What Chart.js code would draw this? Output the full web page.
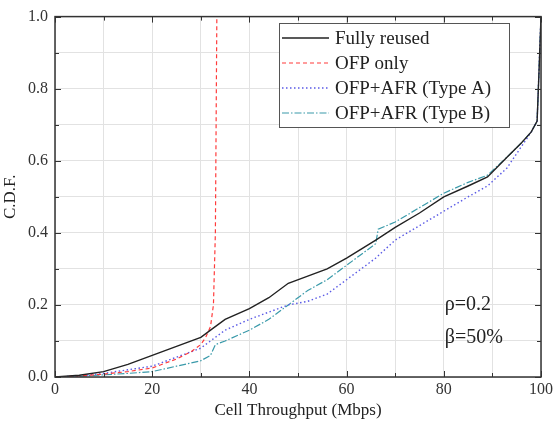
<!DOCTYPE html>
<html>
<head>
<meta charset="utf-8">
<script src="https://cdn.jsdelivr.net/npm/chart.js@4"></script>
<style>
  html, body { margin: 0; padding: 0; background: #fff; }
  #wrap { width: 556px; height: 421px; }
</style>
</head>
<body>
<div id="wrap"><canvas id="cdf-chart" width="556" height="421"></canvas></div>
<script>
// data (throughput in Mbps, CDF)
var seriesNames = ['Fully reused', 'OFP only', 'OFP+AFR (Type A)', 'OFP+AFR (Type B)'];

var fullyX = [0, 5, 10, 15, 20, 25, 30, 32, 35, 40, 44, 48, 52, 56, 60, 66, 70, 75, 80, 85, 89, 93, 96, 98, 99.2, 99.6, 100];
var fullyY = [0, 0.005, 0.015, 0.035, 0.06, 0.085, 0.11, 0.13, 0.16, 0.19, 0.22, 0.26, 0.28, 0.30, 0.33, 0.38, 0.415, 0.455, 0.50, 0.53, 0.555, 0.61, 0.65, 0.68, 0.71, 0.85, 1.0];

var ofpX = [0, 5, 10, 15, 20, 25, 28, 30, 31, 32, 32.6, 33, 33.2, 33.3];
var ofpY = [0, 0.003, 0.008, 0.015, 0.025, 0.05, 0.07, 0.09, 0.11, 0.14, 0.2, 0.4, 0.8, 1.0];

var typeAX = [0, 5, 10, 15, 20, 25, 30, 32, 35, 40, 44, 48, 52, 56, 60, 63, 66, 70, 75, 80, 85, 89, 93, 96, 98, 99.2, 100];
var typeAY = [0, 0.003, 0.01, 0.02, 0.03, 0.055, 0.08, 0.10, 0.13, 0.16, 0.18, 0.20, 0.21, 0.23, 0.27, 0.30, 0.33, 0.38, 0.42, 0.46, 0.50, 0.53, 0.58, 0.64, 0.68, 0.71, 1.0];

var typeBX = [0, 5, 10, 15, 20, 25, 30, 32, 33, 35, 40, 44, 48, 52, 56, 60, 66, 66.5, 70, 75, 80, 85, 89, 93, 96, 98, 99.2, 100];
var typeBY = [0, 0.002, 0.006, 0.01, 0.015, 0.03, 0.045, 0.06, 0.09, 0.10, 0.13, 0.16, 0.20, 0.24, 0.27, 0.31, 0.37, 0.41, 0.43, 0.47, 0.51, 0.54, 0.56, 0.61, 0.65, 0.68, 0.71, 1.0];

var xTicks = [0, 20, 40, 60, 80, 100];
var yTicks = [0.0, 0.2, 0.4, 0.6, 0.8, 1.0];
var notes = ['\u03C1=0.2', '\u03B2=50%'];

var serif = '"Liberation Serif", "DejaVu Serif", serif';

function toPoints(xs, ys) {
	var pts = [];
	for (var i = 0; i < xs.length; i++) {
		pts.push({ x: xs[i], y: ys[i] });
	}
	return pts;
}

function makeSet(label, xs, ys, color, dash, width) {
	return {
		label: label,
		data: toPoints(xs, ys),
		borderColor: color,
		backgroundColor: color,
		borderWidth: width,
		borderDash: dash,
		pointRadius: 0,
		showLine: true,
		tension: 0
	};
}

// legend box, inward ticks, frame and the two notes
var extras = {
	id: 'extras',
	afterDatasetsDraw: function(chart) {
		var ctx = chart.ctx;
		var area = chart.chartArea;
		var xs = chart.scales.x, ys = chart.scales.y;
		ctx.save();

		// inward ticks
		ctx.strokeStyle = '#333';
		ctx.lineWidth = 1;
		for (var v = 0; v <= 100; v += 10) {
			var px = Math.round(xs.getPixelForValue(v)) + 0.5;
			var len = (v % 20 === 0) ? 6 : 4;
			ctx.beginPath();
			ctx.moveTo(px, area.bottom); ctx.lineTo(px, area.bottom - len);
			ctx.moveTo(px, area.top); ctx.lineTo(px, area.top + len);
			ctx.stroke();
		}
		for (var k = 0; k <= 10; k++) {
			var py = Math.round(ys.getPixelForValue(k / 10)) + 0.5;
			var l2 = (k % 2 === 0) ? 6 : 4;
			ctx.beginPath();
			ctx.moveTo(area.left, py); ctx.lineTo(area.left + l2, py);
			ctx.moveTo(area.right, py); ctx.lineTo(area.right - l2, py);
			ctx.stroke();
		}

		// frame
		ctx.lineWidth = 1.5;
		ctx.strokeStyle = '#333';
		ctx.strokeRect(area.left, area.top, area.right - area.left, area.bottom - area.top);

		// legend
		var bx = 279, by = 23, bw = 230, bh = 104;
		ctx.fillStyle = '#fff';
		ctx.fillRect(bx, by, bw, bh);
		ctx.lineWidth = 1;
		ctx.strokeStyle = '#555';
		ctx.strokeRect(bx + 0.5, by + 0.5, bw, bh);
		ctx.beginPath();
		ctx.rect(bx, by, bw, bh);
		ctx.clip();
		ctx.font = '19px ' + serif;
		ctx.textBaseline = 'middle';
		chart.data.datasets.forEach(function(ds, i) {
			var ly = by + 15 + i * 25;
			ctx.strokeStyle = ds.borderColor;
			ctx.lineWidth = ds.borderWidth;
			ctx.setLineDash(ds.borderDash || []);
			ctx.beginPath();
			ctx.moveTo(bx + 3, ly); ctx.lineTo(bx + 50, ly);
			ctx.stroke();
			ctx.setLineDash([]);
			ctx.fillStyle = '#222';
			ctx.fillText(ds.label, bx + 56, ly + 1);
		});
		ctx.restore();

		// notes
		ctx.save();
		ctx.font = '20px ' + serif;
		ctx.fillStyle = '#222';
		ctx.textBaseline = 'middle';
		ctx.fillText(notes[0], xs.getPixelForValue(80.2), ys.getPixelForValue(0.2));
		ctx.fillText(notes[1], xs.getPixelForValue(80.2), ys.getPixelForValue(0.11));
		ctx.restore();
	}
};

var ctx = document.getElementById('cdf-chart').getContext('2d');

var chart = new Chart(ctx, {
	type: 'scatter',
	data: {
		datasets: [
			makeSet(seriesNames[0], fullyX, fullyY, '#222222', [], 1.4),
			makeSet(seriesNames[1], ofpX, ofpY, '#ff3b3b', [4, 3], 1.2),
			makeSet(seriesNames[2], typeAX, typeAY, '#5a5ae6', [1.5, 2.5], 1.4),
			makeSet(seriesNames[3], typeBX, typeBY, '#3a9aaa', [7, 2, 1.5, 2], 1.2)
		]
	},
	options: {
		responsive: false,
		animation: false,
		layout: { padding: { top: 12, right: 14, left: 0, bottom: 0 } },
		plugins: {
			legend: { display: false },
			tooltip: { enabled: false }
		},
		scales: {
			x: {
				type: 'linear',
				min: 0, max: 100,
				afterFit: function(scale) { scale.height = 44; },
				afterBuildTicks: function(scale) {
					var t = [];
					for (var v = 0; v <= 100; v += 10) t.push({ value: v });
					scale.ticks = t;
				},
				ticks: {
					color: '#333',
					padding: 3,
					maxRotation: 0,
					font: { family: serif, size: 16 },
					callback: function(v) { return xTicks.indexOf(v) >= 0 ? String(v) : ''; }
				},
				grid: { color: '#e2e2e2', drawTicks: false },
				border: { display: false },
				title: {
					display: true,
					text: 'Cell Throughput (Mbps)',
					color: '#222',
					padding: { top: 0, bottom: 0 },
					font: { family: serif, size: 17 }
				}
			},
			y: {
				type: 'linear',
				min: 0, max: 1,
				afterFit: function(scale) { scale.width = 55; },
				afterBuildTicks: function(scale) {
					var t = [];
					for (var k = 0; k <= 10; k++) t.push({ value: k / 10 });
					scale.ticks = t;
				},
				ticks: {
					color: '#333',
					padding: 7,
					font: { family: serif, size: 16 },
					callback: function(v) {
						for (var i = 0; i < yTicks.length; i++) {
							if (Math.abs(yTicks[i] - v) < 1e-6) return yTicks[i].toFixed(1);
						}
						return '';
					}
				},
				grid: { color: '#e2e2e2', drawTicks: false },
				border: { display: false },
				title: {
					display: true,
					text: 'C.D.F.',
					color: '#222',
					padding: { top: 0, bottom: 2 },
					font: { family: serif, size: 17 }
				}
			}
		}
	},
	plugins: [extras]
});
</script>
</body>
</html>
